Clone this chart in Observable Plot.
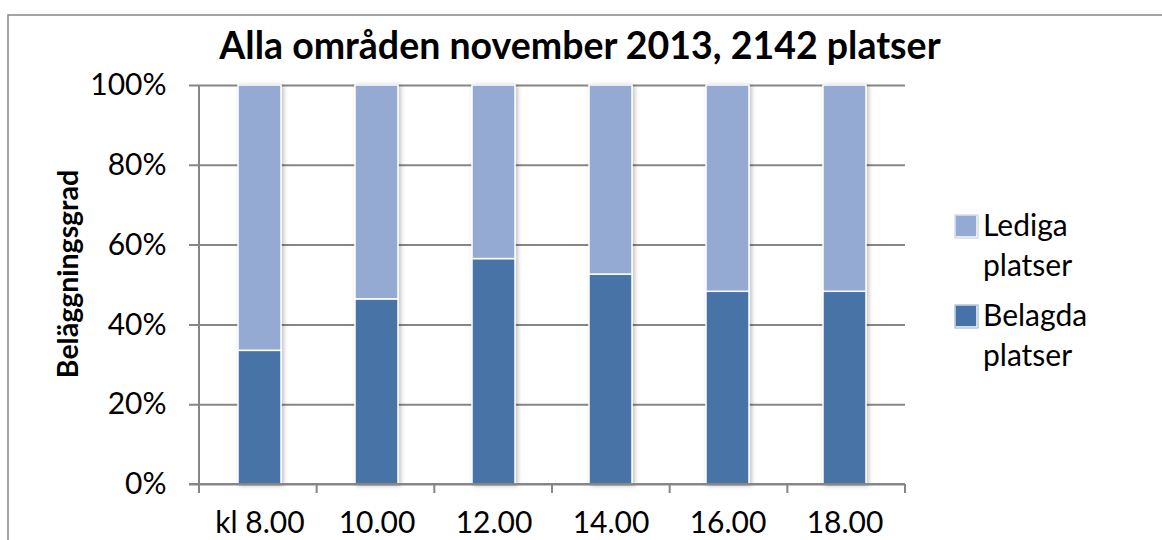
<!DOCTYPE html>
<html>
<head>
<meta charset="utf-8">
<script src="https://cdn.jsdelivr.net/npm/d3@7"></script>
<script src="https://cdn.jsdelivr.net/npm/@observablehq/plot@0.6"></script>
<style>
  html, body { margin: 0; padding: 0; background: #fff; }
  #chart svg { display: block; font-family: Lato, "Open Sans", sans-serif; }
</style>
</head>
<body>
<div id="chart"></div>
<script>
const title = "Alla områden november 2013, 2142 platser";
const yLabel = "Beläggningsgrad";
const categories = ["kl 8.00", "10.00", "12.00", "14.00", "16.00", "18.00"];
const belagda = [33.5, 46.4, 56.5, 52.6, 48.3, 48.3];
const seriesNames = ["Belagda platser", "Lediga platser"];
const seriesColors = ["#4673a7", "#95aad2"];
const legendOrder = ["Lediga platser", "Belagda platser"];
const yTicks = [0, 20, 40, 60, 80, 100];

const data = [];
categories.forEach((c, i) => {
  data.push({cat: c, series: seriesNames[0], value: belagda[i]});
  data.push({cat: c, series: seriesNames[1], value: 100 - belagda[i]});
});

const W = 1162, H = 540;
const gridColor = "#868686";

const plot = Plot.plot({
  width: W,
  height: H,
  marginLeft: 199,
  marginRight: 257,
  marginTop: 85,
  marginBottom: 56,
  style: {fontFamily: "Lato, 'Open Sans', sans-serif", background: "#fff", overflow: "visible"},
  x: {domain: categories, padding: 0, label: null},
  y: {domain: [0, 100], label: null},
  color: {domain: seriesNames, range: seriesColors},
  marks: [
    Plot.ruleY(yTicks, {y: d => d, stroke: gridColor, strokeWidth: 2, insetLeft: -10}),
    Plot.barY(data, {
      x: "cat", y: "value", fill: "series",
      order: seriesNames,
      insetLeft: 37, insetRight: 37,
      stroke: "#fff", strokeWidth: 1.5
    }),
    Plot.axisY({ticks: yTicks, tickSize: 0, tickPadding: 33, tickFormat: d => d + "%", fontSize: 30, fill: "#000", label: null}),
    Plot.axisX({tickSize: 0, tickPadding: 27, fontSize: 30, fill: "#000", label: null})
  ]
});

document.getElementById("chart").appendChild(plot);

const svg = d3.select(plot);
const xs = plot.scale("x");
const [x0, x1] = xs.range;
const ys = plot.scale("y");
const yBottom = ys.range[0], yTop = ys.range[1];
const step = (x1 - x0) / categories.length;

// shadow filter for bars
const defs = svg.insert("defs", ":first-child");
const f = defs.append("filter").attr("id", "shadow").attr("x", "-20%").attr("y", "-5%").attr("width", "140%").attr("height", "110%");
f.append("feDropShadow").attr("dx", 2).attr("dy", 1).attr("stdDeviation", 2).attr("flood-color", "#000").attr("flood-opacity", 0.25);
svg.selectAll("g[aria-label='bar']").attr("filter", "url(#shadow)");

// axis lines and ticks
const ax = svg.append("g").attr("stroke", gridColor).attr("stroke-width", 2);
ax.append("line").attr("x1", x0).attr("x2", x0).attr("y1", yTop).attr("y2", yBottom + 9);
ax.append("line").attr("x1", x0 - 10).attr("x2", x1).attr("y1", yBottom).attr("y2", yBottom);
for (let i = 1; i <= categories.length; i++) {
  const xx = x0 + i * step;
  ax.append("line").attr("x1", xx).attr("x2", xx).attr("y1", yBottom).attr("y2", yBottom + 9);
}

// outer border
svg.append("path")
  .attr("d", `M${W + 5},15 L8,15 L8,${H + 5}`)
  .attr("fill", "none").attr("stroke", gridColor).attr("stroke-width", 1.5);

// title
svg.append("text")
  .attr("x", 580).attr("y", 59)
  .attr("text-anchor", "middle")
  .attr("font-size", 37.5).attr("font-weight", "bold").attr("fill", "#000")
  .text(title);

// y label
svg.append("text")
  .attr("transform", `translate(78,274) rotate(-90)`)
  .attr("text-anchor", "middle")
  .attr("font-size", 28.5).attr("font-weight", "bold").attr("fill", "#000")
  .text(yLabel);

// legend
const lg = svg.append("g").attr("text-anchor", "start");
legendOrder.forEach((name, i) => {
  const top = 215 + i * 90;
  const c = seriesColors[seriesNames.indexOf(name)];
  lg.append("rect").attr("x", 955).attr("y", top).attr("width", 22).attr("height", 22)
    .attr("fill", c).attr("stroke", "#fff").attr("stroke-width", 1.5);
  lg.append("rect").attr("x", 955).attr("y", top).attr("width", 23).attr("height", 23)
    .attr("fill", "none").attr("stroke", c).attr("stroke-width", 1).attr("opacity", 0.6);
  const words = name.split(" ");
  words.forEach((w, j) => {
    lg.append("text").attr("x", 983).attr("y", top + 21 + j * 40)
      .attr("text-anchor", "start")
      .attr("font-size", 30).attr("fill", "#000").text(w);
  });
});
</script>
</body>
</html>
